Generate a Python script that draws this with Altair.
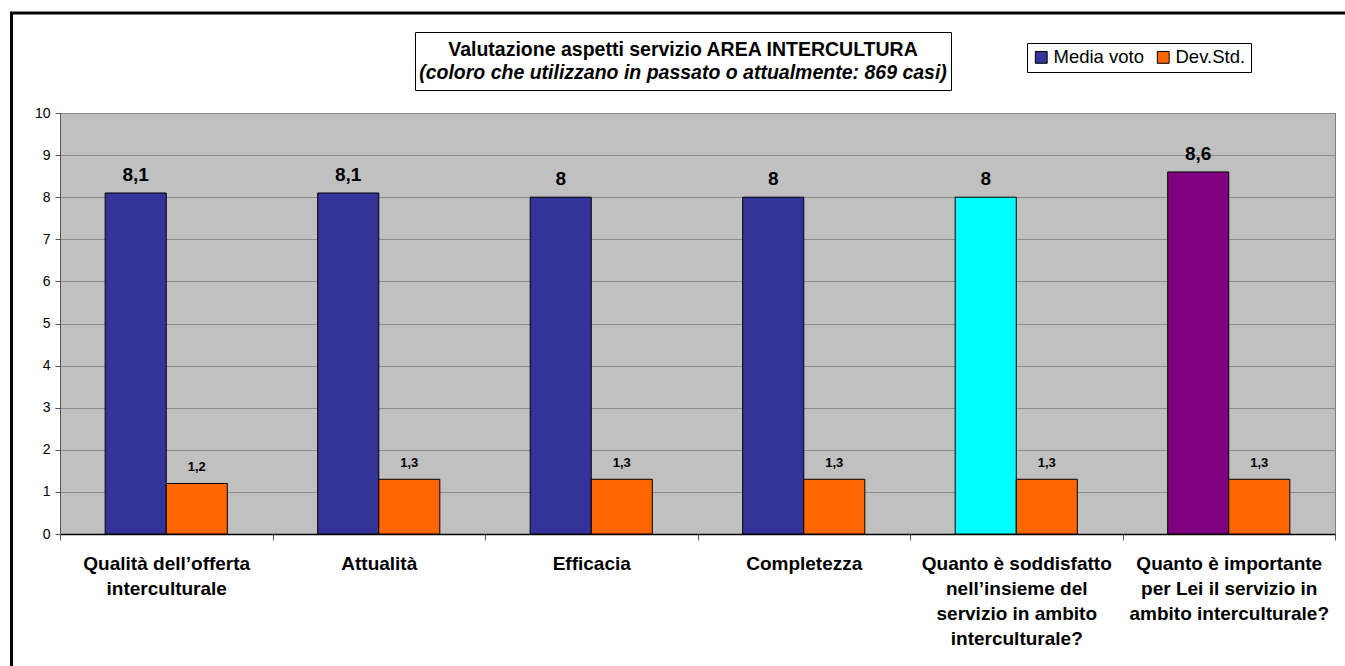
import altair as alt
import pandas as pd

# ---- data ----
categories = [
    "Qualità dell’offerta|interculturale",
    "Attualità",
    "Efficacia",
    "Completezza",
    "Quanto è soddisfatto|nell’insieme del|servizio in ambito|interculturale?",
    "Quanto è importante|per Lei il servizio in|ambito interculturale?",
]
series_names = ["Media voto", "Dev.Std."]
media_voto = [8.1, 8.1, 8.0, 8.0, 8.0, 8.6]
dev_std = [1.2, 1.3, 1.3, 1.3, 1.3, 1.3]
media_fill = ["#333399", "#333399", "#333399", "#333399", "#00FFFF", "#800080"]
dev_fill = ["#FF6600"] * 6
series_colors = ["#333399", "#FF6600"]

title_line1 = "Valutazione aspetti servizio AREA INTERCULTURA"
title_line2 = "(coloro che utilizzano in passato o attualmente: 869 casi)"

FONT = "Liberation Sans"


def fmt(v):
    s = ("%g" % v)
    return s.replace(".", ",")


rows = []
for i, c in enumerate(categories):
    for s, vals, fills in ((series_names[0], media_voto, media_fill),
                           (series_names[1], dev_std, dev_fill)):
        default = series_colors[series_names.index(s)]
        key = s if fills[i] == default else f"{s} {i}"
        rows.append({"category": c, "series": s, "value": vals[i],
                     "label": fmt(vals[i]), "key": key, "fill": fills[i]})
df = pd.DataFrame(rows)

keys = list(series_names)
ranges = list(series_colors)
for r in rows:
    if r["key"] not in keys:
        keys.append(r["key"])
        ranges.append(r["fill"])

W, H = 1275, 421

x_enc = alt.X(
    "category:N", sort=categories, title=None,
    scale=alt.Scale(paddingInner=0, paddingOuter=0),
    axis=alt.Axis(
        labelExpr="isValid(datum.value) ? split(datum.value, '|') : ''",
        labelFont=FONT, labelFontSize=19, labelFontWeight="bold",
        labelColor="black", labelLineHeight=25, labelLimit=400,
        labelAngle=0, labelPadding=14, labelBaseline="top",
        labelOverlap=False,
        tickBand="extent", tickSize=6, tickColor="#555555",
        domainColor="black", domainWidth=1.5, grid=False,
    ),
)
xoff_enc = alt.XOffset(
    "series:N", sort=series_names,
    scale=alt.Scale(paddingInner=0, paddingOuter=0.74),
)
y_enc = alt.Y(
    "value:Q", title=None,
    scale=alt.Scale(domain=[0, 10], nice=False, zero=True),
    axis=alt.Axis(
        values=list(range(11)), labelFont=FONT, labelFontSize=14,
        labelColor="black", labelPadding=5, tickSize=5,
        tickColor="#555555", domainColor="#555555",
        gridColor="#8a8a8a", gridWidth=1,
    ),
)

bars = alt.Chart(df).mark_bar(stroke="black", strokeWidth=1).encode(
    x=x_enc,
    xOffset=xoff_enc,
    y=y_enc,
    fill=alt.Fill(
        "key:N",
        scale=alt.Scale(domain=keys, range=ranges),
        legend=alt.Legend(
            title=None, values=series_names, orient="none",
            legendX=967, legendY=-70, direction="horizontal",
            symbolType="square", symbolSize=140,
            symbolStrokeColor="black", symbolStrokeWidth=1,
            labelFont=FONT, labelFontSize=18.5, labelColor="black",
            labelOffset=3, columnPadding=10,
            strokeColor="black", fillColor="white", padding=5,
        ),
    ),
)

labels = alt.Chart(df).mark_text(
    font=FONT, fontWeight="bold", baseline="alphabetic", dy=-12,
    color="black",
).encode(
    x=alt.X("category:N", sort=categories),
    xOffset=alt.XOffset("series:N", sort=series_names),
    y=alt.Y("value:Q"),
    text="label:N",
    size=alt.Size("series:N", scale=alt.Scale(domain=series_names,
                                              range=[19, 13]), legend=None),
)

one = pd.DataFrame({"k": [0]})

frame = alt.Chart(one).mark_rect(
    fill=None, stroke="black", strokeWidth=3
).encode(
    x=alt.value(-48.5), x2=alt.value(1400),
    y=alt.value(-100), y2=alt.value(700),
)

title_box = alt.Chart(one).mark_rect(
    fill="white", stroke="black", strokeWidth=1
).encode(
    x=alt.value(355.5), x2=alt.value(891.5),
    y=alt.value(-80.5), y2=alt.value(-22.5),
)

t1 = alt.Chart(one).mark_text(
    font=FONT, fontSize=19.5, fontWeight="bold", align="center",
    baseline="alphabetic", color="black", text=title_line1,
).encode(x=alt.value(623), y=alt.value(-57))

t2 = alt.Chart(one).mark_text(
    font=FONT, fontSize=19.5, fontWeight="bold", fontStyle="italic",
    align="center", baseline="alphabetic", color="black", text=title_line2,
).encode(x=alt.value(623), y=alt.value(-34))

chart = alt.layer(frame, title_box, t1, t2, bars, labels).resolve_scale(
    size="independent"
).properties(
    width=W, height=H,
    padding={"left": 60, "top": 113, "right": 10, "bottom": 132},
    autosize=alt.AutoSizeParams(type="none"),
    background="white",
).configure_view(
    fill="#C0C0C0", stroke="#808080", strokeWidth=1,
)

chart.save("out.html", embed_options={"renderer": "svg", "actions": False})
